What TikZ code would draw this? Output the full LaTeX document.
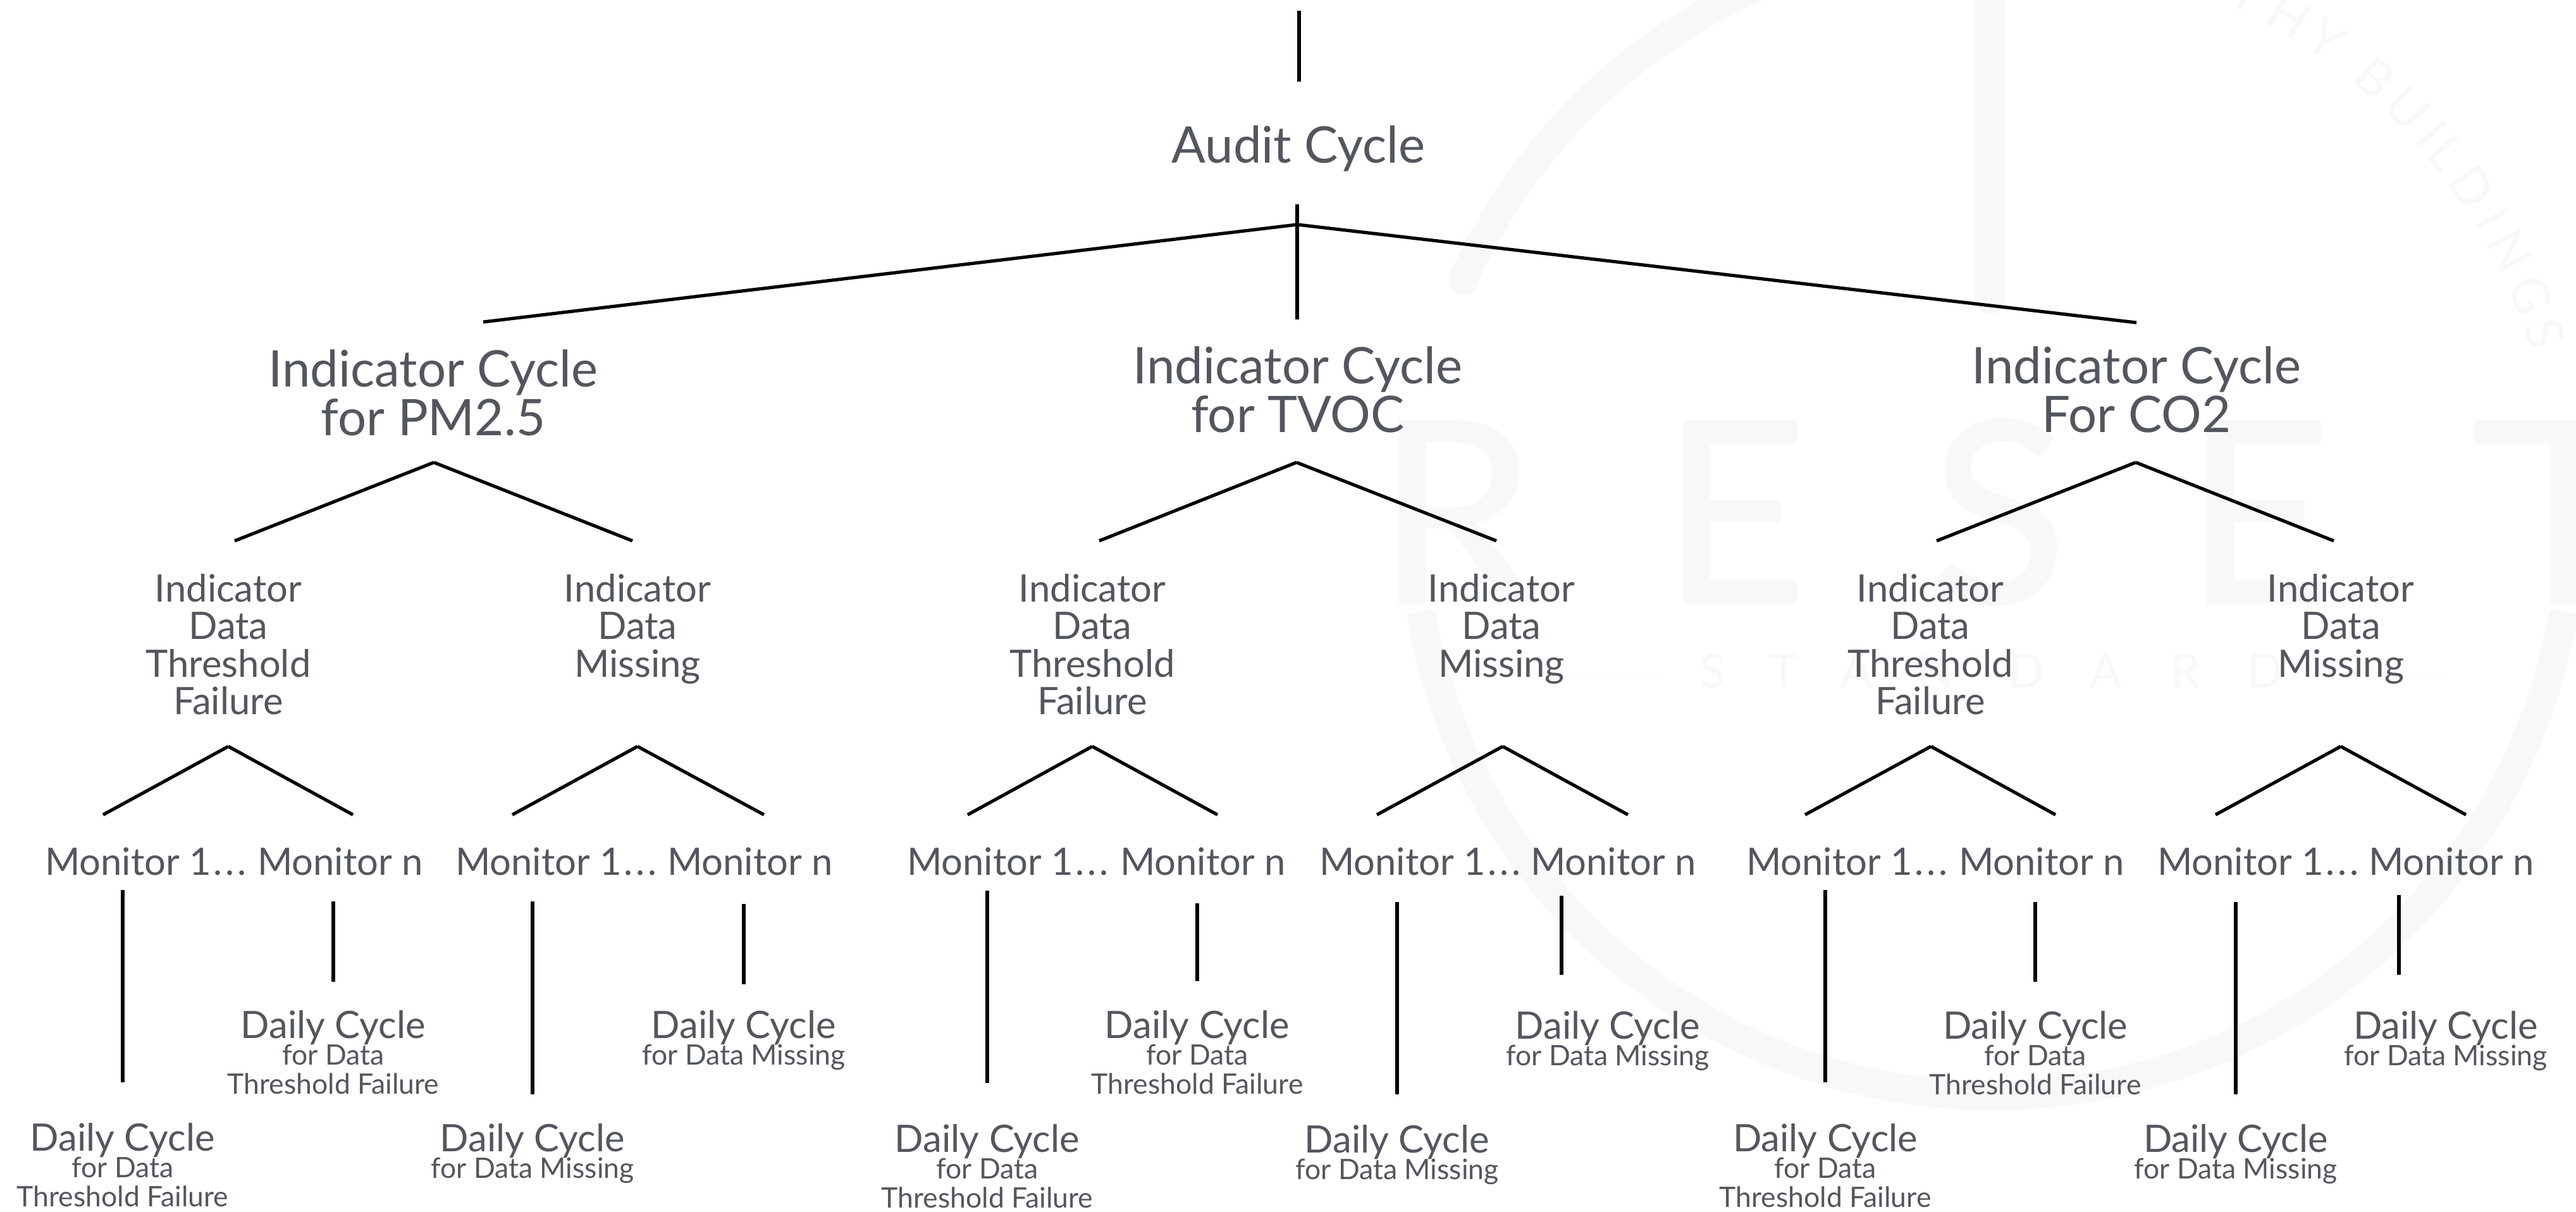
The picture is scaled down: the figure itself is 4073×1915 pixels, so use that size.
\documentclass[tikz,border=0pt]{standalone}
\usepackage{fontspec}
\setmainfont{Lato}
\newfontfamily\wmfont[FakeBold=1.2]{Lato}
\definecolor{inkc}{HTML}{53575D}
\definecolor{wm}{HTML}{F8F8F8}
\definecolor{wmthin}{HTML}{FAFAFA}
\newcommand\fs[2]{\fontsize{#1}{#2}\selectfont\lineskiplimit=-200pt\relax}
\tikzset{
  x=1bp,y=-1bp,
  conn/.style={draw=black,line width=5.2bp},
  lab/.style={text=inkc,inner sep=0pt,outer sep=0pt,align=center,anchor=base},
  big/.style={lab,font=\fs{80}{77}},
  mid/.style={lab,font=\fs{60}{59.5}},
  mon/.style={text=inkc,inner sep=0pt,outer sep=0pt,anchor=base west,font=\fs{60}{60}},
  small/.style={lab,font=\fs{44.7}{46}},
  wmring/.style={draw=wm,line width=46bp},
  wmhuge/.style={text=wm,inner sep=0pt,anchor=base,font=\wmfont\fs{400}{400}},
  wmarc/.style={text=wm,inner sep=0pt,anchor=center,font=\fs{80}{80}},
  wmstd/.style={text=wm,inner sep=0pt,anchor=base,font=\fs{75}{75}},
}
\newcommand\vconn[4]{\coordinate (#1t) at (#2,#3);\coordinate (#1b) at (#2,#4);\draw[conn] (#1t) -- (#1b);}
\newcommand\fork[7]{\coordinate (#1p) at (#2,#3);\coordinate (#1l) at (#4,#5);\coordinate (#1r) at (#6,#7);\draw[conn] (#1p) -- (#1l);\draw[conn] (#1p) -- (#1r);}
% y = baseline of the last line of the node
\newcommand\dthresh[3]{\node[small] (#1) at (#2,#3) {{\fs{60}{60}Daily Cycle}\\[-4bp]for Data\\Threshold Failure};}
\newcommand\dmiss[3]{\node[small] (#1) at (#2,#3) {{\fs{60}{60}Daily Cycle}\\[-4bp]for Data Missing};}
\begin{document}
\begin{tikzpicture}
\useasboundingbox (0,0) rectangle (4073,1915);
\fill[white] (0,0) rectangle (4073,1915);
% watermark
\begin{scope}
\clip (0,0) rectangle (4073,1915);
\draw[wmring,line cap=round] plot[domain=204:250,samples=40] ({3150+916*cos(\x)},{816+916*sin(\x)});
\draw[wmring] plot[domain=170.5:9.5,samples=160] ({3150+916*cos(\x)},{816+916*sin(\x)});
\draw[draw=wm,line width=47bp,line cap=round] (3146,-30) -- (3146,473);
\node[wmhuge] (wR) at (2302,952) {R};
\node[wmhuge] (wE) at (2742,952) {E};
\node[wmhuge] (wS) at (3160,952) {S};
\node[wmhuge] (wF) at (3570,952) {E};
\node[wmhuge] (wT) at (4060,952) {\scalebox{1.3}[1]{T}};
\foreach \c/\a in {T/64,H/59.3,Y/55,B/48.9,U/44.5,I/41,L/38.6,D/34.5,I/30.7,N/27.1,G/22.3,S/18.3}{
  \pgfmathsetmacro\rr{\a-90}
  \node[wmarc,rotate=\rr] at ({3150+920*cos(\a)},{816-920*sin(\a)}) {\c};
}
\foreach \c/\p in {S/2708,T/2821,A/2936,N/3060,D/3204,A/3330,R/3456,D/3582}{
  \node[wmstd] at (\p,1087) {\c};
}
\draw[draw=wmthin,line width=1bp] (2462,1063) -- (2625,1063);
\draw[draw=wmthin,line width=1bp] (3660,1063) -- (3867,1063);
\end{scope}
% top
\vconn{top}{2054}{17}{129}
\node[big] (audit) at (2053,257) {Audit Cycle};
\vconn{aud}{2051}{323}{505}
\fork{af}{2051}{355}{764}{509}{3378}{510}
% level 1
\node[big] (ipm) at (685,688) {Indicator Cycle\\for PM2.5};
\node[big] (itv) at (2052,683) {Indicator Cycle\\for TVOC};
\node[big] (ico) at (3378,683) {Indicator Cycle\\For CO2};
\fork{fa}{686}{731}{371}{855}{1000}{855}
\fork{fb}{2050}{731}{1738}{855}{2366}{855}
\fork{fc}{3377}{731}{3062}{855}{3690}{855}
% level 2
\foreach \n/\x in {a/361,c/1727,e/3052}{
  \node[mid] (ind\n) at (\x,1129.5) {Indicator\\Data\\Threshold\\Failure};
}
\foreach \n/\x in {b/1008,d/2374,f/3701}{
  \node[mid] (ind\n) at (\x,1070) {Indicator\\Data\\Missing};
}
\fork{ga}{361}{1180}{163}{1288}{558}{1288}
\fork{gb}{1008}{1180}{810}{1288}{1208}{1288}
\fork{gc}{1727}{1180}{1530}{1288}{1925}{1288}
\fork{gd}{2376}{1180}{2177}{1288}{2574}{1288}
\fork{ge}{3053}{1180}{2854}{1288}{3250}{1288}
\fork{gf}{3701}{1180}{3503}{1288}{3899}{1288}
% monitors
\foreach \n/\xa/\xb in {a/71/407,b/720/1055,c/1434/1771,d/2086/2420,e/2761/3097,f/3411/3745}{
  \node[mon] (m\n) at (\xa,1383) {Monitor 1\kern3bp.\kern5bp.\kern5bp.};
  \node[mon] (n\n) at (\xb,1383) {Monitor n};
}
% monitor connectors
\vconn{va}{194}{1407}{1711}
\vconn{wa}{527}{1425}{1552}
\vconn{vb}{842}{1425}{1730}
\vconn{wb}{1176}{1429}{1556}
\vconn{vc}{1561}{1408}{1712}
\vconn{wc}{1893}{1428}{1551}
\vconn{vd}{2209}{1426}{1730}
\vconn{wd}{2469}{1416}{1541}
\vconn{ve}{2886}{1407}{1711}
\vconn{we}{3218}{1426}{1552}
\vconn{vf}{3535}{1426}{1730}
\vconn{wf}{3793}{1415}{1541}
% daily
\dthresh{da}{194}{1907}
\dthresh{db}{527}{1729}
\dmiss{dc}{842}{1862}
\dmiss{dd}{1176}{1683}
\dthresh{de}{1561}{1909}
\dthresh{df}{1893}{1729}
\dmiss{dg}{2209}{1864}
\dmiss{dh}{2542}{1684}
\dthresh{di}{2886}{1908}
\dthresh{dj}{3218}{1730}
\dmiss{dk}{3535}{1863}
\dmiss{dl}{3867}{1684}
\end{tikzpicture}
\end{document}
